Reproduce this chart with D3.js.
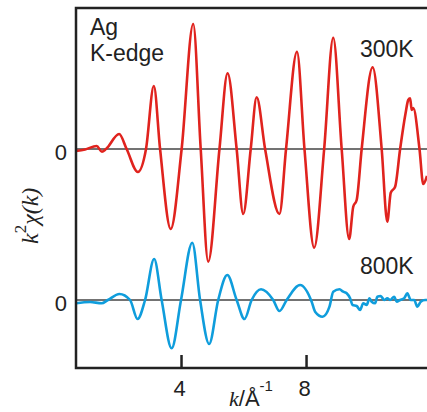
<!DOCTYPE html>
<html>
<head>
<meta charset="utf-8">
<script src="https://cdn.jsdelivr.net/npm/d3@7"></script>
<style>
  body { margin: 0; background: #fff; }
  text { font-family: "Liberation Sans", Arial, sans-serif; fill: #222; }
</style>
</head>
<body>
<script>
const width = 427, height = 412;
const margin = { top: 8, right: 0, bottom: 44, left: 76 };

// k values (1/Å) and k^2 chi(k), arbitrary units
const k300 = [0.64, 0.93, 1.30, 1.47, 1.60, 2.02, 2.26, 2.62, 2.88, 3.13, 3.33, 3.67, 4.02, 4.39, 4.63, 4.87,
  5.23, 5.49, 5.78, 5.99, 6.23, 6.42, 6.69, 7.15, 7.36, 7.71, 7.95, 8.26, 8.58, 8.87, 9.14, 9.38, 9.51, 9.62,
  9.78, 10.13, 10.42, 10.60, 10.71, 10.85, 11.01, 11.18, 11.27, 11.33, 11.38, 11.43, 11.63, 11.75, 11.87];
const chi300 = [-0.2, -0.05, 0.3, -0.27, 0, 1.5, 0, -2.3, 0, 6.3, 0, -8.0, 0, 12.5, 0, -11.27,
  0, 7.57, 0, -6.5, 0, 5.17, 0, -6.5, 0, 9.73, 0, -9.87, 0, 11.13, 0, -9.0, -5.77, -5.1,
  0, 8.17, 0, -7.27, -4.37, -3.77, 0, 3.5, 4.9, 5.07, 3.9, 4.1, 0, -3.5, -2.7];

const k800 = [0.64, 1.09, 1.46, 1.66, 2.03, 2.37, 2.61, 2.85, 3.14, 3.38, 3.70, 4.00, 4.36, 4.61, 4.90, 5.19,
  5.48, 5.78, 6.03, 6.26, 6.56, 6.95, 7.15, 7.38, 7.81, 8.18, 8.29, 8.53, 8.75, 8.87, 9.07, 9.19, 9.30, 9.41,
  9.49, 9.62, 9.73, 9.83, 9.94, 10.03, 10.10, 10.21, 10.28, 10.39, 10.50, 10.60, 10.69, 10.82, 10.90, 11.01,
  11.14, 11.24, 11.35, 11.46, 11.56, 11.67, 11.81, 11.87];
const chi800 = [-0.33, -0.2, -0.33, 0, 0.6, 0, -1.9, 0, 4.1, 0, -4.83, 0, 5.73, 0, -4.4, 0,
  2.5, 0, -1.9, 0, 1.07, 0, -1.1, 0, 1.5, -0.17, -1.17, -1.67, -0.67, 0.83, 1.07, 0.83, 0.67, 0.17,
  -0.5, -0.6, -1.0, -0.33, -0.5, 0.17, -0.17, -0.33, 0.33, 0.4, 0, 0.17, 0, 0.33, -0.17, 0,
  0.17, 0.67, 0, 0, -0.67, -0.17, 0, 0];

const xTicks = [4, 8];
const offset300 = 15.1; // vertical shift of the 300K trace

const svg = d3.select('body').append('svg')
  .attr('width', width)
  .attr('height', height);

const x = d3.scaleLinear().domain([0.64, 11.87]).range([margin.left, width - margin.right]);
const y = d3.scaleLinear().domain([-6.8, 29.2]).range([height - margin.bottom, margin.top]);

const line = d3.line()
  .curve(d3.curveMonotoneX)
  .x(d => x(d[0]))
  .y(d => y(d[1]));

// zero lines
[offset300, 0].forEach(o => {
  svg.append('line')
    .attr('x1', x(0.64)).attr('x2', width)
    .attr('y1', y(o)).attr('y2', y(o))
    .attr('stroke', '#444').attr('stroke-width', 1.6);
});

svg.append('path')
  .attr('d', line(k300.map((k, i) => [k, chi300[i] + offset300])))
  .attr('fill', 'none').attr('stroke', '#e0231e').attr('stroke-width', 2.6)
  .attr('stroke-linejoin', 'round');

svg.append('path')
  .attr('d', line(k800.map((k, i) => [k, chi800[i]])))
  .attr('fill', 'none').attr('stroke', '#0f9ddc').attr('stroke-width', 2.6)
  .attr('stroke-linejoin', 'round');

// frame: left, top, bottom
const x0 = margin.left, yTop = margin.top, yBot = height - margin.bottom;
svg.append('path')
  .attr('d', `M${width},${yTop}H${x0}V${yBot}H${width}`)
  .attr('fill', 'none').attr('stroke', '#222').attr('stroke-width', 2.5);

// bottom axis with inward ticks
const xAxis = svg.append('g')
  .attr('transform', `translate(0,${yBot})`)
  .call(d3.axisBottom(x).tickValues(xTicks).tickSize(-13).tickPadding(12).tickFormat(d3.format('d')));
xAxis.select('.domain').remove();
xAxis.selectAll('.tick line').attr('stroke', '#222').attr('stroke-width', 2.5);
xAxis.selectAll('.tick text')
  .attr('dx', -2)
  .style('font-size', '22px')
  .style('font-family', '"Liberation Sans", Arial, sans-serif')
  .attr('fill', '#222');

// zero labels
[[offset300, '0'], [0, '0']].forEach(([o, t]) => {
  svg.append('text')
    .attr('x', 67).attr('y', y(o) + 11)
    .attr('text-anchor', 'end')
    .style('font-size', '22px')
    .text(t);
});

// annotations
svg.append('text').attr('x', 90).attr('y', 35).style('font-size', '23px').text('Ag');
svg.append('text').attr('x', 90).attr('y', 61).style('font-size', '23px').text('K-edge');
svg.append('text').attr('x', 360).attr('y', 57).style('font-size', '23px').text('300K');
svg.append('text').attr('x', 360).attr('y', 274).style('font-size', '23px').text('800K');

// x axis title
const xt = svg.append('text').attr('x', 229).attr('y', 406).style('font-size', '22px');
xt.append('tspan').style('font-family', '"Liberation Serif", serif').style('font-style', 'italic').text('k');
xt.append('tspan').text('/Å');
xt.append('tspan').attr('dy', -15).style('font-size', '15px').text('-1');

// y axis title
const yt = svg.append('text')
  .attr('transform', 'translate(38,244) rotate(-90)')
  .style('font-family', '"Liberation Serif", serif')
  .style('font-style', 'italic')
  .style('font-size', '24px');
yt.append('tspan').text('k');
yt.append('tspan').attr('dy', -12).style('font-size', '17px').style('font-style', 'normal').text('2');
yt.append('tspan').attr('dy', 12).text('χ(k)');
</script>
</body>
</html>
